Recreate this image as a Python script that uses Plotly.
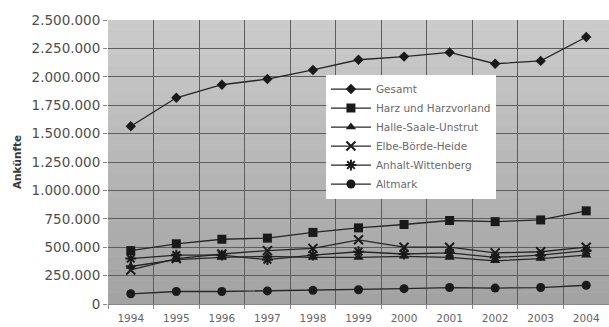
import plotly.graph_objects as go

years = ["1994", "1995", "1996", "1997", "1998", "1999", "2000", "2001", "2002", "2003", "2004"]

gesamt = [1565000, 1815000, 1930000, 1980000, 2060000, 2150000, 2178000, 2215000, 2115000, 2140000, 2350000]
harz = [470000, 530000, 570000, 580000, 630000, 670000, 700000, 735000, 725000, 740000, 820000]
halle = [330000, 390000, 410000, 420000, 410000, 410000, 420000, 410000, 380000, 400000, 430000]
elbe = [300000, 400000, 440000, 470000, 490000, 565000, 500000, 500000, 450000, 460000, 500000]
anhalt = [400000, 430000, 430000, 390000, 430000, 460000, 440000, 450000, 410000, 430000, 470000]
altmark = [90000, 110000, 110000, 115000, 120000, 125000, 135000, 145000, 140000, 145000, 165000]

series_names = ["Gesamt", "Harz und Harzvorland", "Halle-Saale-Unstrut",
                "Elbe-Börde-Heide", "Anhalt-Wittenberg", "Altmark"]
series_values = [gesamt, harz, halle, elbe, anhalt, altmark]
symbols = ["diamond", "square", "triangle-up", "x-thin-open", "asterisk-open", "circle"]
sizes = [8, 9, 9, 9, 9, 9]

y_ticks = list(range(0, 2500001, 250000))

FONT = "DejaVu Sans, Verdana, sans-serif"

fig = go.Figure()
for name, vals, sym, sz in zip(series_names, series_values, symbols, sizes):
    marker = dict(symbol=sym, size=sz, color="#1a1a1a")
    if sym.endswith("open"):
        marker["line"] = dict(color="#1a1a1a", width=2)
    fig.add_trace(go.Scatter(
        x=years, y=vals, name=name, mode="lines+markers",
        line=dict(color="#262626", width=1.3),
        marker=marker,
    ))

# gradient-like background of plot area
n_bands = 24
shapes = []
for i in range(n_bands):
    t = i / (n_bands - 1)
    c = int(round(0xa3 + (0xcb - 0xa3) * t))
    shapes.append(dict(type="rect", xref="paper", yref="paper",
                       x0=0, x1=1, y0=i / n_bands, y1=(i + 1) / n_bands,
                       fillcolor=f"rgb({c},{c},{c})", line=dict(width=0),
                       layer="below"))

fig.update_layout(
    width=609, height=327,
    margin=dict(l=108, r=0, t=20, b=23, autoexpand=False),
    paper_bgcolor="white",
    plot_bgcolor="#b8b8b8",
    separators=",.",
    font=dict(family=FONT, color="#555555", size=11),
    shapes=shapes,
    showlegend=True,
    legend=dict(
        x=0.435, y=0.808, xanchor="left", yanchor="top",
        bgcolor="white", borderwidth=0,
        font=dict(family=FONT, size=10.5, color="#6a6a6a"),
        tracegroupgap=0, itemwidth=40,
    ),
    xaxis=dict(
        type="category", categoryorder="array", categoryarray=years,
        range=[-0.5, 10.5], automargin=False,
        tickson="boundaries", showgrid=True, gridcolor="#5e5e5e", gridwidth=1,
        ticks="outside", ticklen=4, tickcolor="#888888",
        ticklabelstandoff=4,
        showline=True, linecolor="#888888",
        tickfont=dict(family=FONT, size=10.5, color="#666666"),
        fixedrange=True,
    ),
    yaxis=dict(
        range=[0, 2500000], tickvals=y_ticks, tickformat=",d",
        automargin=False,
        showgrid=True, gridcolor="#5e5e5e", gridwidth=1,
        ticks="outside", ticklen=4, tickcolor="#888888",
        showline=False, zeroline=False,
        tickfont=dict(family=FONT, size=13.5, color="#4e4e4e"),
        title=dict(text="<b>Ankünfte</b>", font=dict(family=FONT, size=10.5, color="#3a3a3a"), standoff=7),
        fixedrange=True,
    ),
)

fig.write_html("out.html", config={"displayModeBar": False},
               post_script="document.body.style.margin='0';")
